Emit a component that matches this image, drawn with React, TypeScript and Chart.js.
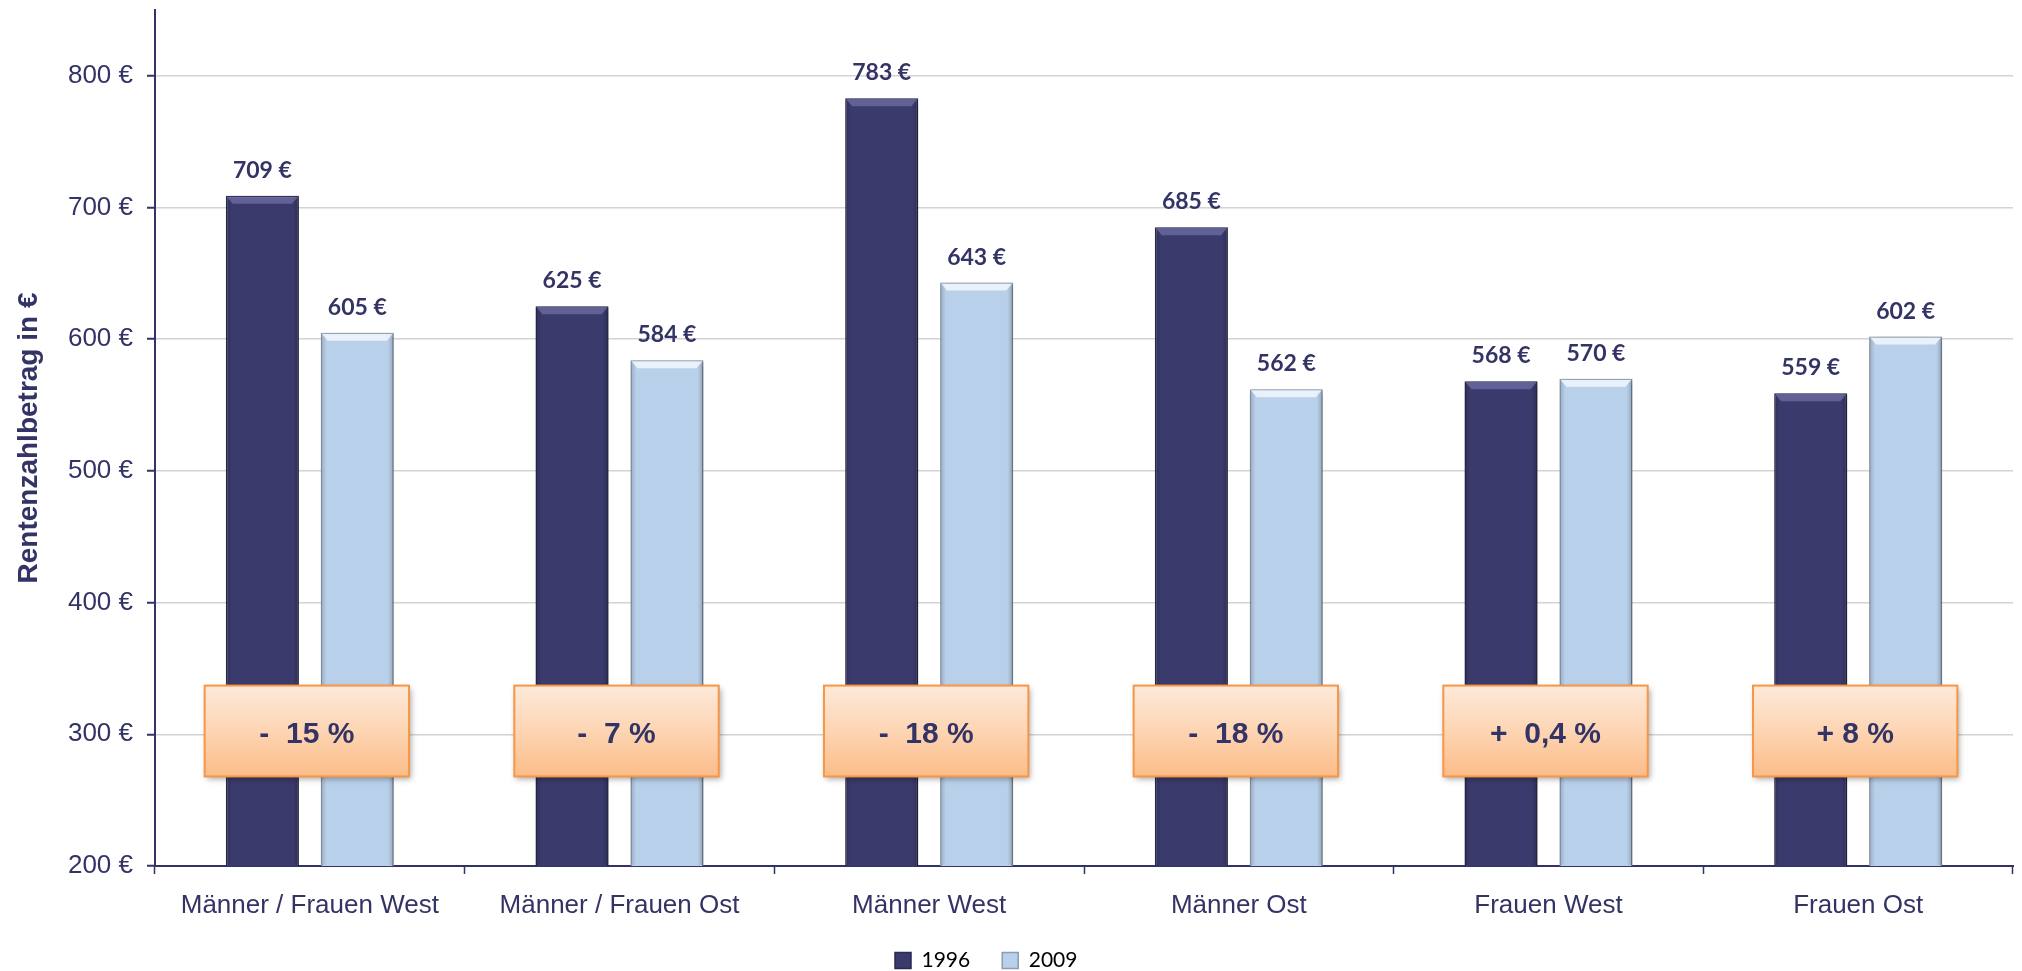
import React, { useEffect, useRef } from "react";
import { Chart, registerables } from "chart.js";

Chart.register(...registerables);

const categories = [
  "Männer / Frauen West",
  "Männer / Frauen Ost",
  "Männer West",
  "Männer Ost",
  "Frauen West",
  "Frauen Ost",
];
const values1996 = [709, 625, 783, 685, 568, 559];
const values2009 = [605, 584, 643, 562, 570, 602];
const changeLabels = ["-  15 %", "-  7 %", "-  18 %", "-  18 %", "+  0,4 %", "+ 8 %"];
const seriesNames = ["1996", "2009"];
const yTickValues = [200, 300, 400, 500, 600, 700, 800];

const NAVY = "#333366";
const DARK = "#3a3a6c";
const LIGHT = "#b9d0ea";

const barShadowPlugin = {
  id: "barShadow",
  beforeDatasetsDraw(chart: any) {
    const ctx = chart.ctx;
    ctx.save();
    ctx.shadowColor = "rgba(0,0,0,0.35)";
    ctx.shadowBlur = 6;
    ctx.shadowOffsetX = 2;
    ctx.shadowOffsetY = 1;
  },
  afterDatasetsDraw(chart: any) {
    const ctx = chart.ctx;
    ctx.restore();
    const area = chart.chartArea;
    chart.data.datasets.forEach((ds: any, di: number) => {
      const meta = chart.getDatasetMeta(di);
      meta.data.forEach((bar: any) => {
        const w = bar.width;
        const l = bar.x - w / 2;
        const r = bar.x + w / 2;
        const t = bar.y;
        const b = Math.min(bar.base, area.bottom);
        ctx.save();
        ctx.beginPath();
        ctx.rect(area.left, area.top, area.right - area.left, area.bottom - area.top);
        ctx.clip();
        const g = ctx.createLinearGradient(l, 0, r, 0);
        g.addColorStop(0, "rgba(0,0,0,0.18)");
        g.addColorStop(0.08, "rgba(0,0,0,0)");
        g.addColorStop(0.92, "rgba(0,0,0,0)");
        g.addColorStop(1, "rgba(0,0,0,0.22)");
        ctx.fillStyle = g;
        ctx.fillRect(l + 1, t + 1, w - 2, b - t - 2);
        ctx.beginPath();
        ctx.moveTo(l + 1, t + 1);
        ctx.lineTo(r - 1, t + 1);
        ctx.lineTo(r - 7, t + 8);
        ctx.lineTo(l + 7, t + 8);
        ctx.closePath();
        ctx.fillStyle = di === 0 ? "rgba(130,130,190,0.55)" : "rgba(245,250,255,0.8)";
        ctx.fill();
        ctx.restore();
      });
    });
  },
};

const labelsAndBoxesPlugin = {
  id: "labelsAndBoxes",
  afterDraw(chart: any) {
    const ctx = chart.ctx;
    const xScale = chart.scales.x;
    const yScale = chart.scales.y;
    ctx.save();
    ctx.font = "bold 23px Lato, 'Open Sans', sans-serif";
    ctx.fillStyle = NAVY;
    ctx.textAlign = "center";
    ctx.textBaseline = "bottom";
    chart.data.datasets.forEach((ds: any, di: number) => {
      const meta = chart.getDatasetMeta(di);
      meta.data.forEach((bar: any, i: number) => {
        ctx.fillText(ds.data[i] + " €", bar.x, bar.y - 14);
      });
    });
    ctx.restore();

    const catW = (xScale.right - xScale.left) / categories.length;
    const boxW = catW * 0.66;
    const top = yScale.getPixelForValue(337);
    const bottom = yScale.getPixelForValue(268);
    const mid = yScale.getPixelForValue(300);
    categories.forEach((c, i) => {
      const cx = xScale.getPixelForValue(i) - 3;
      const l = cx - boxW / 2;
      ctx.save();
      ctx.shadowColor = "rgba(0,0,0,0.35)";
      ctx.shadowBlur = 6;
      ctx.shadowOffsetX = 2;
      ctx.shadowOffsetY = 3;
      const g = ctx.createLinearGradient(0, top, 0, bottom);
      g.addColorStop(0, "#fde9da");
      g.addColorStop(0.5, "#fdd5b3");
      g.addColorStop(1, "#fbbc88");
      ctx.fillStyle = g;
      ctx.fillRect(l, top, boxW, bottom - top);
      ctx.restore();
      ctx.save();
      ctx.strokeStyle = "#f79646";
      ctx.lineWidth = 2;
      ctx.strokeRect(l, top, boxW, bottom - top);
      ctx.font = "bold 30px 'Liberation Sans', Arial, sans-serif";
      ctx.fillStyle = NAVY;
      ctx.textAlign = "center";
      ctx.textBaseline = "middle";
      ctx.fillText(changeLabels[i], cx, mid);
      ctx.restore();
    });
  },
  afterLayout(chart: any) {
    if (chart.legend) {
      chart.legend.left = 863;
    }
  },
};

export default function App() {
  const ref = useRef<HTMLCanvasElement>(null);
  useEffect(() => {
    document.body.style.margin = "0";
    document.body.style.overflow = "hidden";
    if (!ref.current) return;
    const chart = new Chart(ref.current, {
      type: "bar",
      data: {
        labels: categories,
        datasets: [
          {
            label: seriesNames[0],
            data: values1996,
            backgroundColor: DARK,
            borderColor: "#2a2a52",
            borderWidth: 1.5,
            categoryPercentage: 0.613,
            barPercentage: 0.77,
          },
          {
            label: seriesNames[1],
            data: values2009,
            backgroundColor: LIGHT,
            borderColor: "#8d9cb2",
            borderWidth: 1.5,
            categoryPercentage: 0.613,
            barPercentage: 0.77,
          },
        ],
      },
      options: {
        responsive: false,
        animation: false,
        layout: { padding: { top: 10, right: 9, left: 0, bottom: 0 } },
        plugins: {
          tooltip: { enabled: false },
          legend: {
            position: "bottom",
            align: "start",
            maxHeight: 53,
            labels: {
              font: { family: "Lato, 'Open Sans', sans-serif", size: 21 },
              color: "#000000",
              boxWidth: 16,
              boxHeight: 16,
              padding: 32,
            },
          },
        },
        scales: {
          x: {
            grid: {
              drawOnChartArea: false,
              drawTicks: true,
              tickLength: 8,
              tickColor: NAVY,
              tickWidth: 1.5,
              offset: true,
            },
            border: { color: NAVY, width: 2 },
            ticks: {
              color: NAVY,
              padding: 16,
              font: { family: "'Liberation Sans', Arial, sans-serif", size: 26 },
              maxRotation: 0,
              autoSkip: false,
            },
            afterFit(scale: any) {
              scale.height = 52;
              scale.paddingLeft = 0;
              scale.paddingRight = 0;
            },
          },
          y: {
            min: 200,
            max: 850,
            afterBuildTicks(scale: any) {
              scale.ticks = yTickValues.map((v) => ({ value: v }));
            },
            grid: {
              color: "#d3d3d3",
              lineWidth: 1.5,
              tickLength: 8,
              tickColor: NAVY,
              tickWidth: 2,
            },
            border: { color: NAVY, width: 2 },
            ticks: {
              color: NAVY,
              padding: 14,
              font: { family: "'Liberation Sans', Arial, sans-serif", size: 26 },
              callback: (v: any) => v + " €",
            },
            title: {
              display: true,
              text: "Rentenzahlbetrag in €",
              color: NAVY,
              font: { family: "'Liberation Sans', Arial, sans-serif", size: 28, weight: "bold" },
              padding: { top: 12, bottom: 0 },
            },
            afterFit(scale: any) {
              scale.width = 155;
              scale.paddingTop = 0;
              scale.paddingBottom = 0;
            },
          },
        },
      },
      plugins: [barShadowPlugin, labelsAndBoxesPlugin],
    });
    return () => chart.destroy();
  }, []);
  return <canvas ref={ref} width={2022} height={971} />;
}
